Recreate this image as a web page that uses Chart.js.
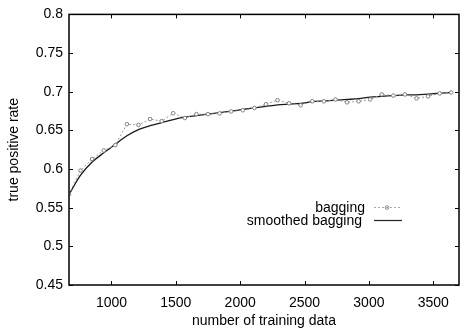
<!DOCTYPE html>
<html>
<head>
<meta charset="utf-8">
<script src="https://cdn.jsdelivr.net/npm/chart.js@4"></script>
<style>
  html, body { margin: 0; padding: 0; background: #fff; }
  #wrap { width: 464px; height: 336px; }
</style>
</head>
<body>
<div id="wrap"><canvas id="chart" width="464" height="336"></canvas></div>
<script>
// training set sizes
let sizes = [670, 760, 850, 940, 1030, 1120, 1210, 1300, 1390, 1480, 1570, 1660,
  1750, 1840, 1930, 2020, 2110, 2200, 2290, 2380, 2470, 2560, 2650, 2740, 2830,
  2920, 3010, 3100, 3190, 3280, 3370, 3460, 3550, 3640];

let bagging = [0.5675, 0.598, 0.613, 0.624, 0.631, 0.658, 0.657, 0.6646, 0.662, 0.6722,
  0.666, 0.671, 0.671, 0.672, 0.6745, 0.676, 0.679, 0.6838, 0.689, 0.685, 0.6825,
  0.6876, 0.6876, 0.690, 0.6863, 0.6876, 0.690, 0.6965, 0.695, 0.6965, 0.6914,
  0.694, 0.6978, 0.699];

let smoothed = [0.567, 0.592, 0.609, 0.621, 0.632, 0.643, 0.651, 0.656, 0.66, 0.664,
  0.667, 0.669, 0.671, 0.673, 0.675, 0.677, 0.679, 0.681, 0.683, 0.684, 0.685,
  0.687, 0.688, 0.689, 0.690, 0.691, 0.693, 0.694, 0.695, 0.696, 0.696, 0.697,
  0.698, 0.699];

let xTicks = [1000, 1500, 2000, 2500, 3000, 3500];
let yTicks = [0.45, 0.5, 0.55, 0.6, 0.65, 0.7, 0.75, 0.8];

const FONT = 'Liberation Sans, Arial, Helvetica, sans-serif';

// matlab style frame, inward ticks and the legend
const framePlugin = {
  id: 'frame',
  afterDraw(chart) {
    const ctx = chart.ctx;
    const a = chart.chartArea;
    const xs = chart.scales.x;
    const ys = chart.scales.y;
    ctx.save();
    ctx.strokeStyle = '#000';
    ctx.lineWidth = 1.5;
    ctx.strokeRect(a.left, a.top, a.right - a.left, a.bottom - a.top);
    ctx.lineWidth = 1;
    xTicks.forEach((t) => {
      let px = Math.round(xs.getPixelForValue(t)) + 0.5;
      ctx.beginPath();
      ctx.moveTo(px, a.bottom); ctx.lineTo(px, a.bottom - 4);
      ctx.moveTo(px, a.top); ctx.lineTo(px, a.top + 4);
      ctx.stroke();
    });
    yTicks.forEach((t) => {
      let py = Math.round(ys.getPixelForValue(t)) + 0.5;
      ctx.beginPath();
      ctx.moveTo(a.left, py); ctx.lineTo(a.left + 4, py);
      ctx.moveTo(a.right, py); ctx.lineTo(a.right - 4, py);
      ctx.stroke();
    });

    // legend
    ctx.font = '14px ' + FONT;
    ctx.fillStyle = '#000';
    ctx.textAlign = 'right';
    ctx.textBaseline = 'middle';
    ctx.fillText('bagging', 365, 208);
    ctx.fillText('smoothed bagging', 362, 221);

    ctx.strokeStyle = '#aaa';
    ctx.setLineDash([2, 2]);
    ctx.beginPath();
    ctx.moveTo(374, 207.5); ctx.lineTo(401, 207.5);
    ctx.stroke();
    ctx.setLineDash([]);
    ctx.strokeStyle = '#888';
    ctx.beginPath();
    ctx.arc(387, 207.5, 1.8, 0, Math.PI * 2);
    ctx.stroke();

    ctx.strokeStyle = '#222';
    ctx.lineWidth = 1.2;
    ctx.beginPath();
    ctx.moveTo(374, 220.5); ctx.lineTo(402, 220.5);
    ctx.stroke();
    ctx.restore();
  }
};

const ctx = document.getElementById('chart').getContext('2d');
new Chart(ctx, {
  type: 'line',
  data: {
    datasets: [
      {
        label: 'bagging',
        data: sizes.map((s, i) => ({ x: s, y: bagging[i] })),
        borderColor: '#9a9a9a',
        borderWidth: 1,
        borderDash: [2, 2],
        pointStyle: 'circle',
        pointRadius: 1.8,
        pointBorderColor: '#808080',
        pointBackgroundColor: '#fff',
        pointBorderWidth: 1,
        tension: 0,
      },
      {
        label: 'smoothed bagging',
        data: sizes.map((s, i) => ({ x: s, y: smoothed[i] })),
        borderColor: '#1a1a1a',
        borderWidth: 1.3,
        pointRadius: 0,
        tension: 0.3,
      },
    ],
  },
  options: {
    responsive: false,
    animation: false,
    events: [],
    layout: { padding: { top: 11, right: 0, bottom: 0, left: 0 } },
    plugins: {
      legend: { display: false },
      tooltip: { enabled: false },
    },
    scales: {
      x: {
        type: 'linear',
        min: 670,
        max: 3700,
        afterBuildTicks: (s) => { s.ticks = xTicks.map((v) => ({ value: v })); },
        afterFit: (s) => { s.height = 51; },
        grid: { display: false, drawTicks: false },
        border: { display: false },
        ticks: {
          color: '#000',
          font: { family: FONT, size: 14 },
          padding: 10,
          maxRotation: 0,
          callback: (v) => String(v),
        },
        title: {
          display: true,
          text: 'number of training data',
          color: '#000',
          font: { family: FONT, size: 14 },
          padding: { top: 0, bottom: 6 },
        },
      },
      y: {
        min: 0.45,
        max: 0.8,
        afterBuildTicks: (s) => { s.ticks = yTicks.map((v) => ({ value: v })); },
        afterFit: (s) => { s.width = 69; },
        grid: { display: false, drawTicks: false },
        border: { display: false },
        ticks: {
          color: '#000',
          font: { family: FONT, size: 14 },
          padding: 6,
          callback: (v) => String(Math.round(v * 100) / 100),
        },
        title: {
          display: true,
          text: 'true positive rate',
          color: '#000',
          font: { family: FONT, size: 14 },
          padding: { top: 6, bottom: 0 },
        },
      },
    },
  },
  plugins: [framePlugin],
});
</script>
</body>
</html>
